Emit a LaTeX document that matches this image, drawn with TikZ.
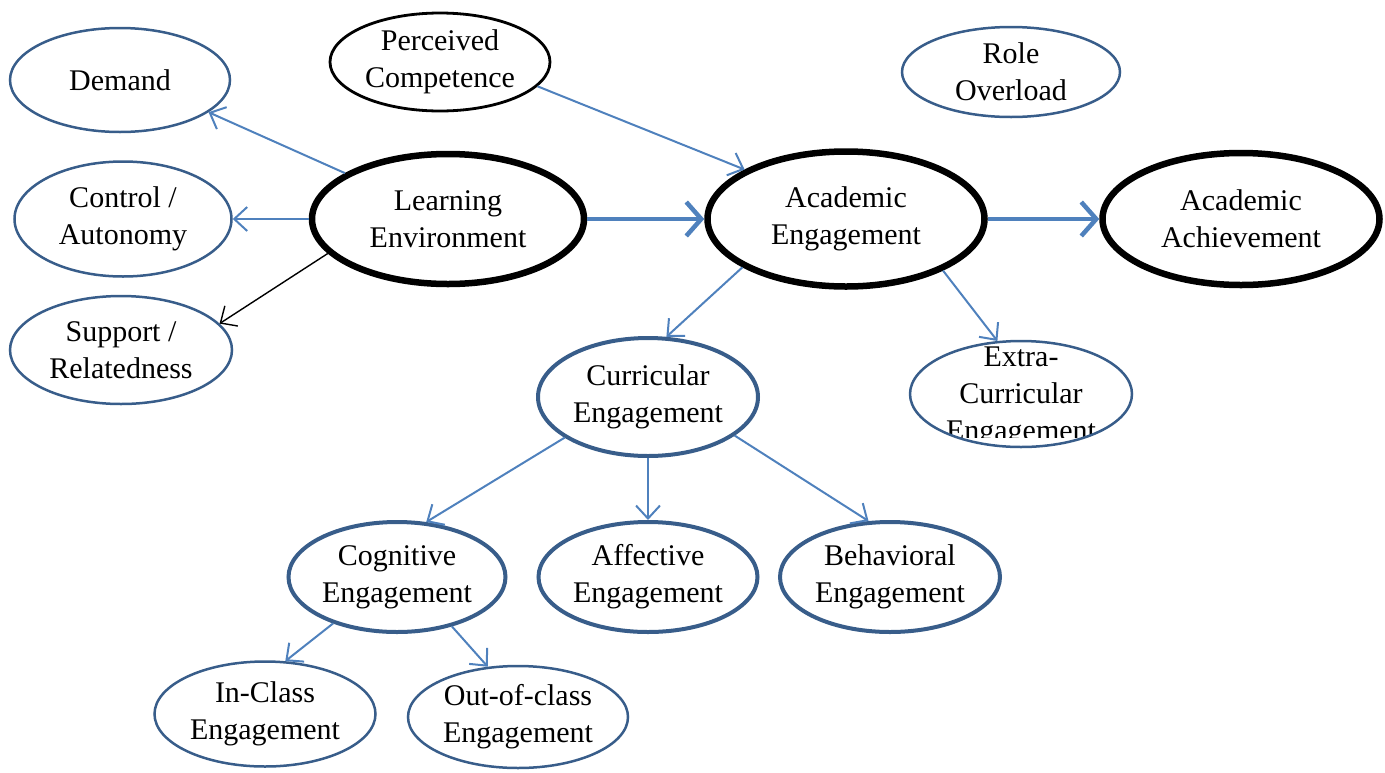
\documentclass[tikz,border=0pt]{standalone}
\usepackage{fontspec}
\setmainfont{Liberation Serif}
\usepackage{tikz}
\usetikzlibrary{arrows.meta,shapes.geometric}

\definecolor{ovalblue}{RGB}{56,93,138}
\definecolor{lineblue}{RGB}{79,129,189}

\tikzset{
  oval/.style={ellipse, draw, inner sep=0pt, align=center},
  blueoval/.style={oval, draw=ovalblue, line width=2.5pt},
  bluebold/.style={oval, draw=ovalblue, line width=4pt},
  blackoval/.style={oval, draw=black, line width=2.8pt},
  blackbold/.style={oval, draw=black, line width=6.5pt},
  link/.style={draw=lineblue, line width=2pt, -{Straight Barb[length=13pt,width=24pt]}},
  biglink/.style={draw=lineblue, line width=4.5pt, -{Straight Barb[length=15pt,width=34pt]}},
  plainlink/.style={draw=black, line width=1.4pt, -{Straight Barb[length=13pt,width=24pt]}}
}

\begin{document}
\begin{tikzpicture}[x=1pt, y=-1pt, font=\fontsize{30}{37}\selectfont]
\useasboundingbox (0,0) rectangle (1385,772);

\node[blueoval, minimum width=220, minimum height=104] (demand) at (120,80) {Demand};
\node[blackoval, minimum width=220, minimum height=98] (percomp) at (440,62) {Perceived\\Competence};
\node[blueoval, minimum width=218, minimum height=90] (role) at (1011,72) {Role\\Overload};
\node[blueoval, minimum width=217, minimum height=115] (control) at (123,219) {Control /\\Autonomy};
\node[blueoval, minimum width=222, minimum height=108] (support) at (121,350) {Support /\\Relatedness};
\node[blackbold, minimum width=272, minimum height=130] (learnenv) at (448,219) {Learning\\Environment};
\node[blackbold, minimum width=277, minimum height=135] (acadeng) at (846,219) {Academic\\Engagement};
\node[blackbold, minimum width=277, minimum height=132] (acadach) at (1241,219) {Academic\\Achievement};
\node[bluebold, minimum width=220, minimum height=118] (curric) at (648,397) {Curricular\\Engagement};
\node[blueoval, minimum width=222, minimum height=106,
  path picture={
    \clip (path picture bounding box.south west) ++(0,-10) rectangle (path picture bounding box.north east);
    \node[align=center] at ([yshift=-3pt]path picture bounding box.center) {Extra-\\Curricular\\Engagement};
  }] (extra) at (1021,394) {};
\node[bluebold, minimum width=217, minimum height=110] (cognit) at (397,577) {Cognitive\\Engagement};
\node[bluebold, minimum width=219, minimum height=110] (affect) at (648,577) {Affective\\Engagement};
\node[bluebold, minimum width=220, minimum height=110] (behav) at (890,577) {Behavioral\\Engagement};
\node[blueoval, minimum width=221, minimum height=105] (inclass) at (265,714) {In-Class\\Engagement};
\node[blueoval, minimum width=220, minimum height=102] (outclass) at (518,717) {Out-of-class\\Engagement};

\path
  (learnenv.156) edge[link] (demand.-20)
  (learnenv.180) edge[link] (control.0)
  (learnenv.196) edge[plainlink] (support.15)
  (percomp.-14) edge[link] (acadeng.154)
  (learnenv.0) edge[biglink] (acadeng.180)
  (acadeng.0) edge[biglink] (acadach.180)
  (acadeng.205) edge[link] (curric.73)
  (acadeng.-28) edge[link] (extra.114)
  (curric.206) edge[link] (cognit.62)
  (curric.south) edge[link] (affect.north)
  (curric.-24) edge[link] (behav.111)
  (cognit.216) edge[link] (inclass.69)
  (cognit.-42) edge[link] (outclass.121)
;
\end{tikzpicture}
\end{document}
